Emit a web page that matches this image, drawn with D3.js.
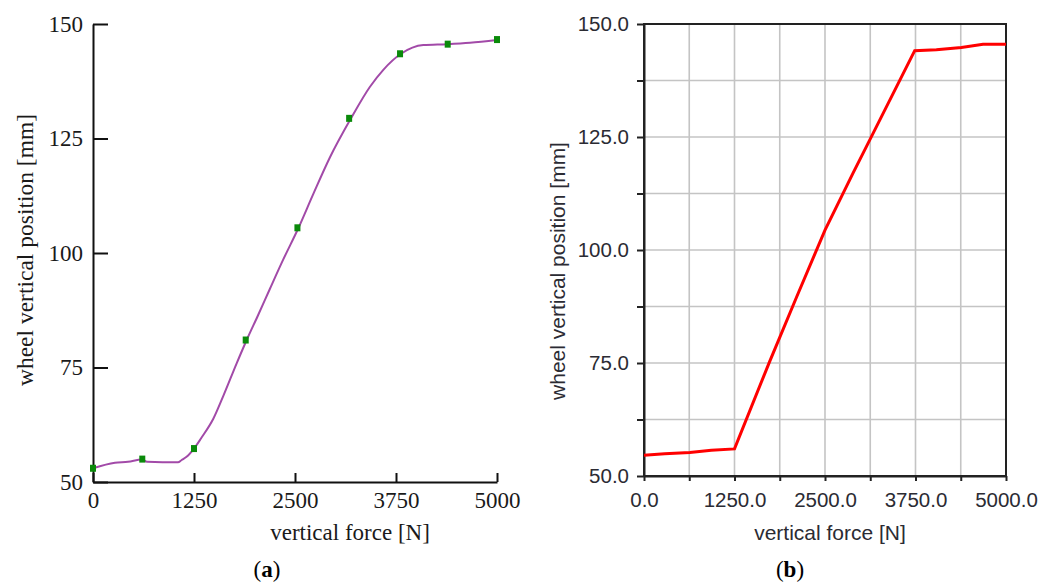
<!DOCTYPE html>
<html>
<head>
<meta charset="utf-8">
<script src="https://cdn.jsdelivr.net/npm/d3@7"></script>
<style>
  body { margin: 0; background: #fff; }
  svg { display: block; }
</style>
</head>
<body>
<svg width="1062" height="584"></svg>
<script>
// (a) smooth curve
var forceA = [0, 272, 433, 606, 668, 860, 1052, 1097, 1158, 1250, 1340, 1489, 1613, 1778, 1902, 2040, 2190, 2355, 2541, 2727, 2933, 3193, 3428, 3593, 3812, 4088, 4381, 4666, 5000];
var posA = [53.0, 54.2, 54.4, 54.9, 54.4, 54.3, 54.3, 54.8, 55.5, 57.3, 59.6, 63.8, 68.8, 75.9, 81.0, 86.3, 92.2, 98.6, 105.4, 112.9, 120.9, 129.4, 136.3, 140.0, 143.5, 145.4, 145.6, 145.9, 146.5];
// (a) green markers
var markForce = [0, 610, 1250, 1890, 2530, 3170, 3800, 4390, 5000];
var markPos = [53.0, 55.0, 57.3, 81.0, 105.5, 129.4, 143.5, 145.6, 146.6];
// (b) red line
var forceB = [0, 286, 633, 930, 1250, 1735, 2105, 2500, 2887, 3117, 3739, 4038, 4384, 4683, 5000];
var posB = [54.6, 54.9, 55.2, 55.7, 56.0, 75.3, 89.5, 104.4, 117.0, 124.3, 144.1, 144.3, 144.8, 145.5, 145.5];

var ticksA_x = [0, 1250, 2500, 3750, 5000];
var ticksA_y = [50, 75, 100, 125, 150];
var ticksB_x = [0, 625, 1250, 1875, 2500, 3125, 3750, 4375, 5000];
var ticksB_y = [50, 62.5, 75, 87.5, 100, 112.5, 125, 137.5, 150];

var svg = d3.select("svg");

// ---------- chart (a) ----------
var xa = d3.scaleLinear().domain([0, 5000]).range([93, 497]);
var ya = d3.scaleLinear().domain([50, 150]).range([482, 24]);
var serif = "'Liberation Serif', 'Times New Roman', serif";

var gxa = svg.append("g").attr("transform", "translate(0," + ya(50) + ")")
    .call(d3.axisBottom(xa).tickValues(ticksA_x).tickSizeInner(-9).tickSizeOuter(0).tickPadding(10).tickFormat(d3.format("d")));
var gya = svg.append("g").attr("transform", "translate(" + xa(0) + ",0)")
    .call(d3.axisLeft(ya).tickValues(ticksA_y).tickSizeInner(-15).tickSizeOuter(0).tickPadding(10).tickFormat(d3.format("d")));
[gxa, gya].forEach(function(g) {
    g.selectAll("path, line").attr("stroke", "#111").attr("stroke-width", 2);
    g.selectAll("text").attr("fill", "#1a1a1a").style("font-family", serif).style("font-size", "23px");
});

svg.append("path")
    .datum(forceA.map(function(f, i) { return [f, posA[i]]; }))
    .attr("fill", "none")
    .attr("stroke", "#a24aa8")
    .attr("stroke-width", 2)
    .attr("d", d3.line().x(function(d) { return xa(d[0]); }).y(function(d) { return ya(d[1]); }).curve(d3.curveMonotoneX));

svg.selectAll("rect.mark")
    .data(markForce.map(function(f, i) { return [f, markPos[i]]; }))
    .enter().append("rect")
    .attr("class", "mark")
    .attr("x", function(d) { return xa(d[0]) - 3; })
    .attr("y", function(d) { return ya(d[1]) - 3.5; })
    .attr("width", 6).attr("height", 7)
    .attr("fill", "#0a8a0a");

svg.append("text")
    .attr("x", 350).attr("y", 540)
    .attr("text-anchor", "middle")
    .style("font-family", serif).style("font-size", "23px").attr("fill", "#1a1a1a")
    .text("vertical force [N]");
svg.append("text")
    .attr("transform", "translate(33,250) rotate(-90)")
    .attr("text-anchor", "middle")
    .style("font-family", serif).style("font-size", "23.5px").attr("fill", "#1a1a1a")
    .text("wheel vertical position [mm]");

// ---------- chart (b) ----------
var xb = d3.scaleLinear().domain([0, 5000]).range([644, 1006]);
var yb = d3.scaleLinear().domain([50, 150]).range([476, 24]);
var sans = "'Liberation Sans', Arial, sans-serif";

// grid
svg.append("g").selectAll("line")
    .data(ticksB_x.slice(1, -1)).enter().append("line")
    .attr("x1", xb).attr("x2", xb).attr("y1", yb(50)).attr("y2", yb(150))
    .attr("stroke", "#c4c4c4").attr("stroke-width", 1.6);
svg.append("g").selectAll("line")
    .data(ticksB_y.slice(1, -1)).enter().append("line")
    .attr("y1", yb).attr("y2", yb).attr("x1", xb(0)).attr("x2", xb(5000))
    .attr("stroke", "#c4c4c4").attr("stroke-width", 1.6);

svg.append("rect")
    .attr("x", xb(0)).attr("y", yb(150))
    .attr("width", xb(5000) - xb(0)).attr("height", yb(50) - yb(150))
    .attr("fill", "none").attr("stroke", "#222").attr("stroke-width", 2);

var gxb = svg.append("g").attr("transform", "translate(0," + yb(50) + ")")
    .call(d3.axisBottom(xb).tickValues(ticksB_x).tickSizeInner(5).tickSizeOuter(0).tickPadding(11)
        .tickFormat(function(d) { return d % 1250 === 0 ? d3.format(".1f")(d) : ""; }));
var gyb = svg.append("g").attr("transform", "translate(" + xb(0) + ",0)")
    .call(d3.axisLeft(yb).tickValues(ticksB_y).tickSizeInner(7).tickSizeOuter(0).tickPadding(8)
        .tickFormat(function(d) { return d % 25 === 0 ? d3.format(".1f")(d) : ""; }));
[gxb, gyb].forEach(function(g) {
    g.selectAll("path, line").attr("stroke", "#222").attr("stroke-width", 2);
    g.selectAll("text").attr("fill", "#2b2b33").style("font-family", sans).style("font-size", "20.5px");
});

svg.append("path")
    .datum(forceB.map(function(f, i) { return [f, posB[i]]; }))
    .attr("fill", "none")
    .attr("stroke", "#ff0000")
    .attr("stroke-width", 3)
    .attr("d", d3.line().x(function(d) { return xb(d[0]); }).y(function(d) { return yb(d[1]); }));

svg.append("text")
    .attr("x", 830).attr("y", 540)
    .attr("text-anchor", "middle")
    .style("font-family", sans).style("font-size", "21px").attr("fill", "#2b2b33")
    .text("vertical force [N]");
svg.append("text")
    .attr("transform", "translate(565,271) rotate(-90)")
    .attr("text-anchor", "middle")
    .style("font-family", sans).style("font-size", "21px").attr("fill", "#2b2b33")
    .text("wheel vertical position [mm]");

// captions
[["a", 267], ["b", 790]].forEach(function(c) {
    var t = svg.append("text")
        .attr("x", c[1]).attr("y", 577)
        .attr("text-anchor", "middle")
        .style("font-family", serif).style("font-size", "23px").attr("fill", "#000");
    t.append("tspan").text("(");
    t.append("tspan").style("font-weight", "bold").text(c[0]);
    t.append("tspan").text(")");
});
</script>
</body>
</html>
